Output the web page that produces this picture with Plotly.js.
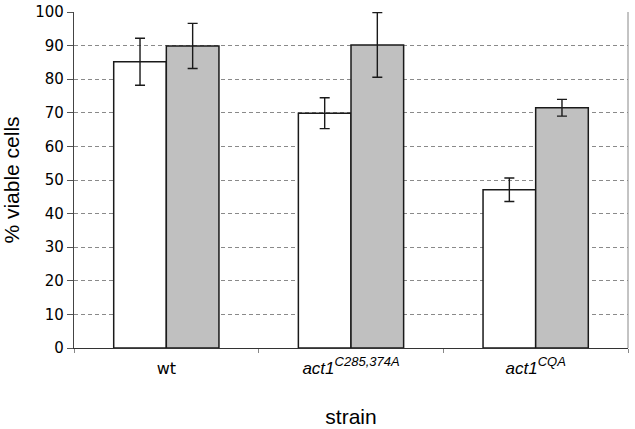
<!DOCTYPE html>
<html>
<head>
<meta charset="utf-8">
<script src="https://cdn.plot.ly/plotly-3.0.1.min.js"></script>
<style>html,body{margin:0;padding:0;background:#fff}#chart{width:635px;height:429px}</style>
</head>
<body>
<div id="chart"></div>
<script>
const categories = [
  '<span style="font-family:DejaVu Sans, Verdana, sans-serif;font-size:16px">wt</span>',
  '<i>act1</i><sup><span style="font-size:13px"><i>C285,374A</i></span></sup>',
  '<i>act1</i><sup><span style="font-size:13px"><i>CQA</i></span></sup>'
];
const seriesA = [85.2, 69.9, 47.1];
const errorA = [7.0, 4.6, 3.5];
const seriesB = [89.9, 90.2, 71.5];
const errorB = [6.7, 9.6, 2.5];
const yTicks = [0, 10, 20, 30, 40, 50, 60, 70, 80, 90, 100];

const errStyle = (arr) => ({type: 'data', array: arr, visible: true, color: '#1a1a1a', thickness: 1.4, width: 5});

const traces = [
  {type: 'bar', name: 'A', x: categories, y: seriesA, error_y: errStyle(errorA),
   marker: {color: '#ffffff', line: {color: '#1a1a1a', width: 1.5}}},
  {type: 'bar', name: 'B', x: categories, y: seriesB, error_y: errStyle(errorB),
   marker: {color: '#c0c0c0', line: {color: '#1a1a1a', width: 1.5}}}
];

const layout = {
  width: 635, height: 429,
  margin: {l: 74, r: 7, t: 12, b: 81},
  paper_bgcolor: '#ffffff', plot_bgcolor: '#ffffff',
  showlegend: false,
  barmode: 'group', bargap: 0.43, bargroupgap: 0,
  font: {family: 'DejaVu Sans, Verdana, sans-serif', color: '#000'},
  xaxis: {
    type: 'category', tickson: 'boundaries', ticks: 'outside', ticklen: 4, tickcolor: '#888',
    ticklabelstandoff: 4,
    showline: true, linecolor: '#333', linewidth: 1.2, showgrid: false,
    tickfont: {family: 'Liberation Sans, Arial, sans-serif', size: 17, color: '#000'},
    title: {text: 'strain', font: {family: 'Liberation Sans, Arial, sans-serif', size: 21, color: '#000'}, standoff: 32}
  },
  yaxis: {
    range: [0, 100], tickvals: yTicks, ticks: 'outside', ticklen: 6, tickcolor: '#555',
    showline: true, linecolor: '#444', linewidth: 1.2,
    showgrid: true, gridcolor: '#8a8a8a', griddash: '4px,3px', gridwidth: 1,
    zeroline: false,
    tickfont: {family: 'DejaVu Sans, Verdana, sans-serif', size: 15, color: '#000'},
    title: {text: '% viable cells', font: {family: 'Liberation Sans, Arial, sans-serif', size: 21, color: '#000'}, standoff: 12}
  },
  shapes: [
    {type: 'line', xref: 'paper', yref: 'paper', x0: 1, x1: 1, y0: 0, y1: 1, line: {color: '#888', width: 1}}
  ]
};

Plotly.newPlot('chart', traces, layout, {displayModeBar: false, staticPlot: true});
</script>
</body>
</html>
